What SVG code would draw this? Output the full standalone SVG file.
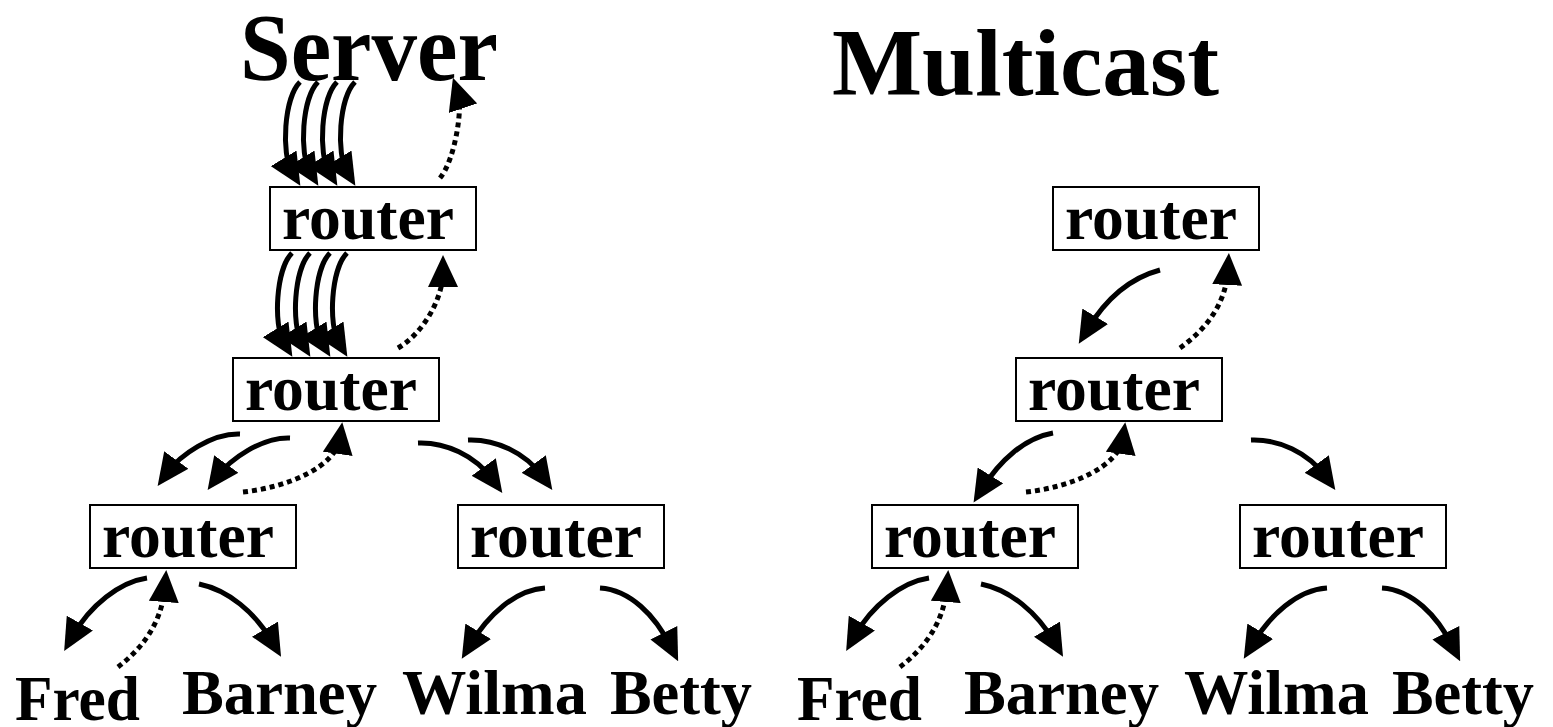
<svg xmlns="http://www.w3.org/2000/svg" width="1553" height="727" viewBox="0 0 1553 727">
<style>
.t{font-family:"Liberation Serif","Times New Roman",serif;font-weight:bold;fill:#000}
.box{fill:#fff;stroke:#000;stroke-width:2}
.s{fill:none;stroke:#000;stroke-width:5;marker-end:url(#ah)}
.d{fill:none;stroke:#000;stroke-width:5;stroke-dasharray:5 4;marker-end:url(#ah)}
</style>
<defs>
<marker id="ah" markerUnits="userSpaceOnUse" viewBox="0 0 32 30" markerWidth="32" markerHeight="30" refX="16" refY="15" orient="auto">
<path d="M0,0 L32,15 L0,30 z" fill="#000"/>
</marker>
<path id="fan" d="M0,-104 C-16,-88 -19,-32 -8,-14"/>
</defs>
<rect width="1553" height="727" fill="#fff"/>
<g id="titles">
<text class="t" x="240" y="80" font-size="96" textLength="258" lengthAdjust="spacingAndGlyphs">Server</text>
<text class="t" x="832" y="95" font-size="96" textLength="387" lengthAdjust="spacingAndGlyphs">Multicast</text>
</g>
<g id="connectors">
<use href="#fan" class="s" transform="translate(300,186)"/>
<use href="#fan" class="s" transform="translate(318,186)"/>
<use href="#fan" class="s" transform="translate(337,186)"/>
<use href="#fan" class="s" transform="translate(355,186)"/>
<path class="d" d="M440,178 C455,160 463,108 458,93"/>
<use href="#fan" class="s" transform="translate(292,357)"/>
<use href="#fan" class="s" transform="translate(310,357)"/>
<use href="#fan" class="s" transform="translate(330,357)"/>
<use href="#fan" class="s" transform="translate(347,357)"/>
<path class="d" d="M398,348 C422,334 443,300 443,271"/>
<path class="s" d="M240,434 C212,433 180,455 167,473"/>
<path class="s" d="M290,438 C262,437 230,459 217,477"/>
<path class="d" d="M243,492 C290,487 336,466 340,438"/>
<path class="s" d="M418,443 C445,442 475,455 493,480"/>
<path class="s" d="M468,440 C495,439 525,452 543,477"/>
<path class="s" d="M147,578 C120,582 90,605 72,637"/>
<path class="d" d="M118,667 C140,650 162,625 165,586"/>
<path class="s" d="M199,584 C228,590 255,612 273,643"/>
<path class="s" d="M545,588 C515,590 488,615 470,645"/>
<path class="s" d="M600,588 C630,590 655,615 671,647"/>
<path class="s" d="M1160,270 C1130,278 1105,300 1087,330"/>
<path class="d" d="M1180,348 C1205,330 1226,305 1228,269"/>
<path class="s" d="M1053,433 C1025,438 1000,460 982,489"/>
<path class="d" d="M1026,492 C1073,487 1119,466 1123,438"/>
<path class="s" d="M1251,440 C1278,439 1308,452 1326,477"/>
<path class="s" d="M929,578 C902,582 872,605 854,637"/>
<path class="d" d="M900,667 C922,650 944,625 947,586"/>
<path class="s" d="M981,584 C1010,590 1037,612 1055,643"/>
<path class="s" d="M1327,588 C1297,590 1270,615 1252,645"/>
<path class="s" d="M1382,588 C1412,590 1437,615 1453,647"/>
</g>
<g id="router-tl"><rect class="box" x="270" y="187" width="206" height="63"/><text class="t" x="282" y="239" font-size="63" textLength="172" lengthAdjust="spacingAndGlyphs">router</text></g>
<g id="router-ml"><rect class="box" x="233" y="358" width="206" height="63"/><text class="t" x="245" y="410" font-size="63" textLength="172" lengthAdjust="spacingAndGlyphs">router</text></g>
<g id="router-bl1"><rect class="box" x="90" y="505" width="206" height="63"/><text class="t" x="102" y="557" font-size="63" textLength="172" lengthAdjust="spacingAndGlyphs">router</text></g>
<g id="router-bl2"><rect class="box" x="458" y="505" width="206" height="63"/><text class="t" x="470" y="557" font-size="63" textLength="172" lengthAdjust="spacingAndGlyphs">router</text></g>
<g id="router-tr"><rect class="box" x="1053" y="187" width="206" height="63"/><text class="t" x="1065" y="239" font-size="63" textLength="172" lengthAdjust="spacingAndGlyphs">router</text></g>
<g id="router-mr"><rect class="box" x="1016" y="358" width="206" height="63"/><text class="t" x="1028" y="410" font-size="63" textLength="172" lengthAdjust="spacingAndGlyphs">router</text></g>
<g id="router-br1"><rect class="box" x="872" y="505" width="206" height="63"/><text class="t" x="884" y="557" font-size="63" textLength="172" lengthAdjust="spacingAndGlyphs">router</text></g>
<g id="router-br2"><rect class="box" x="1240" y="505" width="206" height="63"/><text class="t" x="1252" y="557" font-size="63" textLength="172" lengthAdjust="spacingAndGlyphs">router</text></g>
<g id="fred-l"><text class="t" x="15" y="720" font-size="64" textLength="125" lengthAdjust="spacingAndGlyphs">Fred</text></g>
<g id="barney-l"><text class="t" x="182" y="714" font-size="64" textLength="195" lengthAdjust="spacingAndGlyphs">Barney</text></g>
<g id="wilma-l"><text class="t" x="402" y="714" font-size="64" textLength="185" lengthAdjust="spacingAndGlyphs">Wilma</text></g>
<g id="betty-l"><text class="t" x="610" y="714" font-size="64" textLength="142" lengthAdjust="spacingAndGlyphs">Betty</text></g>
<g id="fred-r"><text class="t" x="797" y="720" font-size="64" textLength="125" lengthAdjust="spacingAndGlyphs">Fred</text></g>
<g id="barney-r"><text class="t" x="964" y="714" font-size="64" textLength="195" lengthAdjust="spacingAndGlyphs">Barney</text></g>
<g id="wilma-r"><text class="t" x="1184" y="714" font-size="64" textLength="185" lengthAdjust="spacingAndGlyphs">Wilma</text></g>
<g id="betty-r"><text class="t" x="1392" y="714" font-size="64" textLength="142" lengthAdjust="spacingAndGlyphs">Betty</text></g>
</svg>
